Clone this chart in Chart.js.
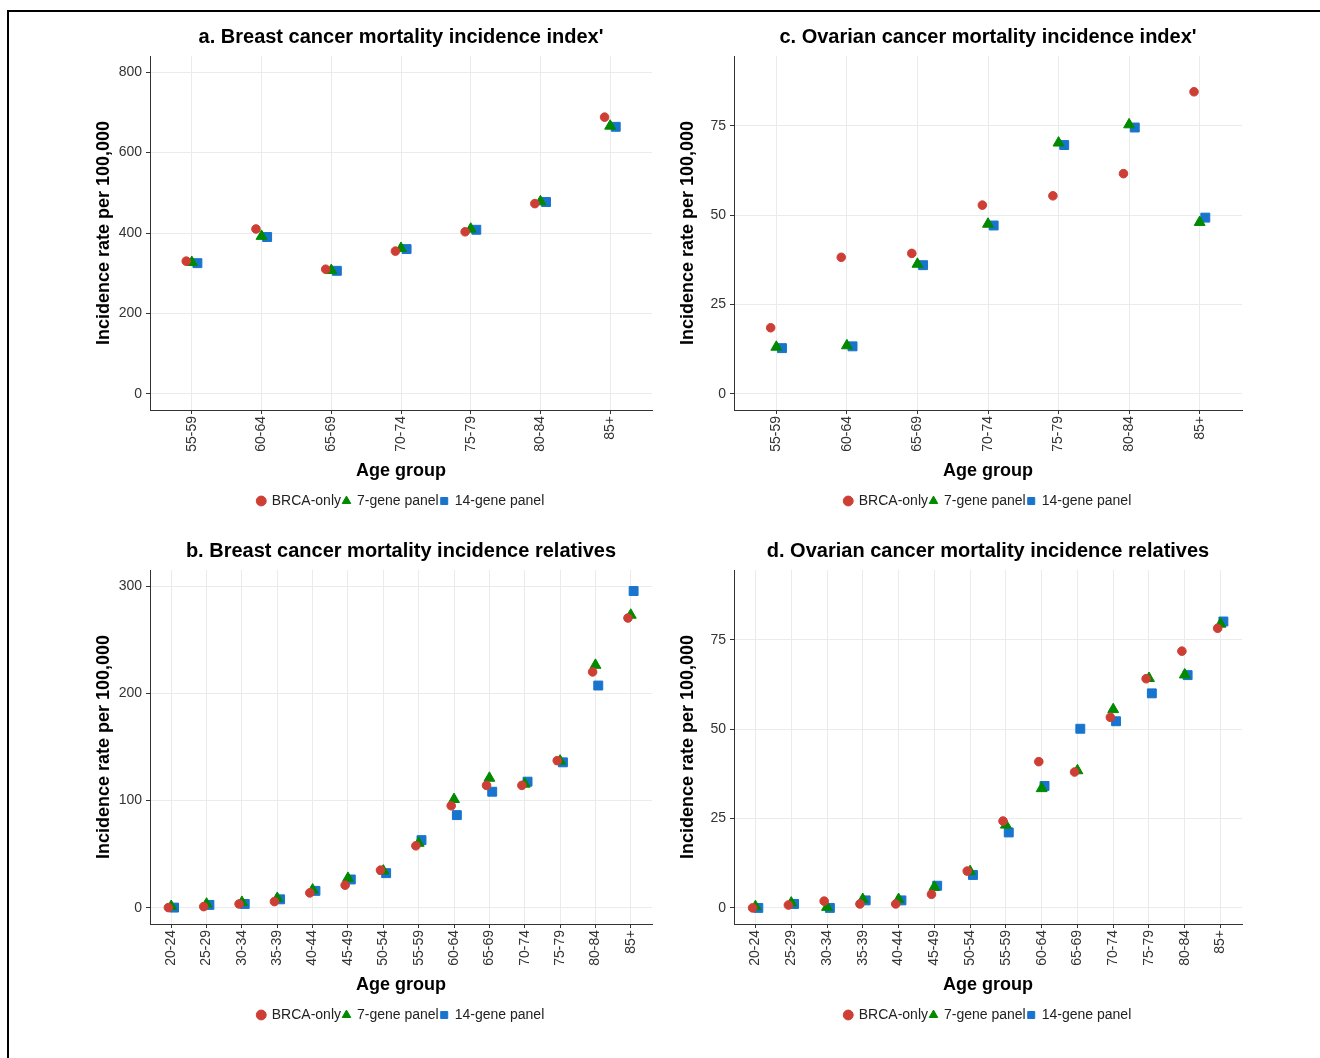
<!DOCTYPE html>
<html>
<head>
<meta charset="utf-8">
<script src="https://cdn.jsdelivr.net/npm/chart.js@4.4.1/dist/chart.umd.min.js"></script>
<style>
  body { margin: 0; background: #fff; width: 1320px; height: 1058px; position: relative; overflow: hidden; }
  #frame { position: absolute; left: 7px; top: 10px; right: -10px; bottom: -10px;
           border-top: 2px solid #000; border-left: 2px solid #000; }
  canvas { position: absolute; }
</style>
</head>
<body>
<div id="frame"></div>
<canvas id="panelA" width="642" height="504" style="left:80px;top:14px"></canvas>
<canvas id="panelC" width="648" height="504" style="left:664px;top:14px"></canvas>
<canvas id="panelB" width="642" height="504" style="left:80px;top:528px"></canvas>
<canvas id="panelD" width="648" height="504" style="left:664px;top:528px"></canvas>
<script>
// grupos de edad
const agesIndex = ['55-59', '60-64', '65-69', '70-74', '75-79', '80-84', '85+'];
const agesRel = ['20-24', '25-29', '30-34', '35-39', '40-44', '45-49', '50-54',
                 '55-59', '60-64', '65-69', '70-74', '75-79', '80-84', '85+'];

// a. Breast cancer mortality incidence index
const breastIndexBrca = [330, 410, 310, 355, 403, 473, 688];
const breastIndex7 = [327, 392, 307, 362, 410, 478, 666];
const breastIndex14 = [325, 390, 306, 360, 408, 477, 664];

// c. Ovarian cancer mortality incidence index
const ovarianIndexBrca = [18.5, 38.2, 39.3, 52.8, 55.4, 61.6, 84.5];
const ovarianIndex7 = [13.1, 13.5, 36.3, 47.5, 70.2, 75.3, 48.0];
const ovarianIndex14 = [12.8, 13.3, 36.0, 47.1, 69.6, 74.5, 49.3];

// b. Breast cancer mortality incidence relatives
const breastRelBrca = [0.3, 1.2, 3.7, 5.9, 14, 21.2, 35.2, 57.9, 95.2, 114.2, 114.2, 137.3, 220, 270.2];
const breastRel7 = [1.5, 3.7, 5.3, 9, 16.8, 27.7, 34.5, 60.4, 101.2, 121, 115.5, 137, 226.3, 273];
const breastRel14 = [0.3, 2.8, 3.7, 8, 15.9, 26.5, 32.4, 63.2, 86.5, 108.3, 117.7, 135.7, 207.3, 295.4];

// d. Ovarian cancer mortality incidence relatives
const ovarianRelBrca = [0, 0.8, 1.9, 1.1, 1.1, 3.8, 10.3, 24.3, 40.9, 38, 53.3, 64.1, 71.8, 78.2];
const ovarianRel7 = [0.4, 1.4, 0.2, 2.4, 2.4, 5.8, 10.2, 23.2, 33.4, 38.4, 55.5, 64.2, 65.2, 79.4];
const ovarianRel14 = [0, 1.1, 0, 2.1, 2.1, 6.2, 9.2, 21.1, 34.1, 50.1, 52.2, 60, 65.1, 80.1];

// marcas del eje y
const breastIndexTicks = [0, 200, 400, 600, 800];
const breastRelTicks = [0, 100, 200, 300];
const ovarianTicks = [0, 25, 50, 75];

const seriesNames = ['BRCA-only', '7-gene panel', '14-gene panel'];

Chart.defaults.font.family = '"Liberation Sans", Arial, sans-serif';
Chart.defaults.color = '#333';

const red = '#cd3f35';
const green = '#008a00';
const blue = '#1874cd';
const dodge = 0.08;

// centrar título y leyenda sobre el área del gráfico (como ggplot)
const centrarSobrePanel = {
    id: 'centrarSobrePanel',
    afterLayout(chart) {
        const area = chart.chartArea;
        [chart.titleBlock, chart.legend].forEach(b => {
            if (!b) return;
            b.left = area.left;
            b.right = area.right;
            b.width = area.right - area.left;
        });
    }
};

function puntos(values, shift) {
    return values.map((v, i) => ({ x: i + shift, y: v }));
}

function makePanel(id, title, cats, brca, g7, g14, yTicks, yMin, yMax) {
    const ctx = document.getElementById(id).getContext('2d');
    return new Chart(ctx, {
        type: 'scatter',
        data: {
            datasets: [
                { label: seriesNames[0], data: puntos(brca, -dodge), pointStyle: 'circle', pointRadius: 4.3,
                  backgroundColor: red, borderColor: red, borderWidth: 1 },
                { label: seriesNames[1], data: puntos(g7, 0), pointStyle: 'triangle', pointRadius: 6.3,
                  backgroundColor: green, borderColor: green, borderWidth: 1 },
                { label: seriesNames[2], data: puntos(g14, dodge), pointStyle: 'rect', pointRadius: 6.3,
                  backgroundColor: blue, borderColor: blue, borderWidth: 1 }
            ]
        },
        options: {
            responsive: false,
            animation: false,
            layout: { padding: { left: 0, right: 70, top: 0, bottom: 0 } },
            scales: {
                x: {
                    type: 'linear',
                    min: -0.6,
                    max: cats.length - 1 + 0.6,
                    afterBuildTicks: s => { s.ticks = cats.map((c, i) => ({ value: i })); },
                    afterFit: s => { s.height = 82; },
                    ticks: {
                        autoSkip: false, minRotation: 90, maxRotation: 90, padding: 2,
                        font: { size: 14 }, color: '#333',
                        callback: v => cats[v]
                    },
                    grid: { color: '#ebebeb', tickColor: '#333', tickLength: 4 },
                    border: { display: true, color: '#333', width: 1 },
                    title: { display: true, text: 'Age group', color: '#000',
                             font: { size: 18, weight: 'bold' }, padding: { top: 0, bottom: 10 } }
                },
                y: {
                    min: yMin,
                    max: yMax,
                    afterBuildTicks: s => { s.ticks = yTicks.map(v => ({ value: v })); },
                    afterFit: s => { s.width = 70; },
                    ticks: { font: { size: 14 }, color: '#333', padding: 4 },
                    grid: { color: '#ebebeb', tickColor: '#333', tickLength: 4 },
                    border: { display: true, color: '#333', width: 1 },
                    title: { display: true, text: 'Incidence rate per 100,000', color: '#000',
                             font: { size: 18, weight: 'bold' }, padding: { top: 13, bottom: 0 } }
                }
            },
            plugins: {
                title: { display: true, text: title, color: '#000',
                         font: { size: 20, weight: 'bold' }, padding: { top: 11, bottom: 7 } },
                legend: {
                    position: 'bottom',
                    labels: { usePointStyle: true, boxWidth: 7, boxHeight: 7, padding: 2,
                              font: { size: 14 }, color: '#222' }
                },
                tooltip: { enabled: false }
            }
        },
        plugins: [centrarSobrePanel]
    });
}

makePanel('panelA', "a. Breast cancer mortality incidence index'", agesIndex,
          breastIndexBrca, breastIndex7, breastIndex14, breastIndexTicks, -40, 840);
makePanel('panelC', "c. Ovarian cancer mortality incidence index'", agesIndex,
          ovarianIndexBrca, ovarianIndex7, ovarianIndex14, ovarianTicks, -4.5, 94.5);
makePanel('panelB', 'b. Breast cancer mortality incidence relatives', agesRel,
          breastRelBrca, breastRel7, breastRel14, breastRelTicks, -15, 315);
makePanel('panelD', 'd. Ovarian cancer mortality incidence relatives', agesRel,
          ovarianRelBrca, ovarianRel7, ovarianRel14, ovarianTicks, -4.5, 94.5);
</script>
</body>
</html>
